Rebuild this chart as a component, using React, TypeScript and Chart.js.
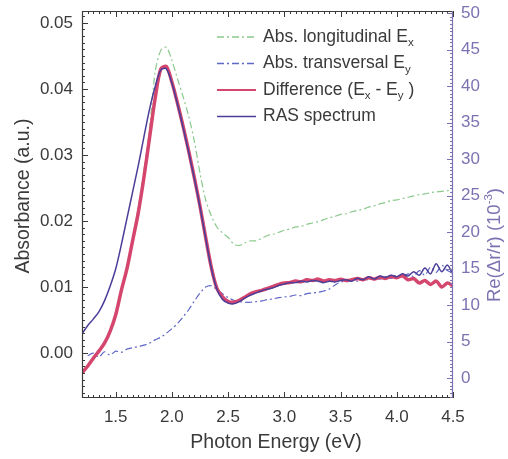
import React, { useEffect, useRef } from "react";
import { Chart, registerables } from "chart.js";

Chart.register(...registerables);

// ---------- data ----------
const energy = [
  1.2, 1.25, 1.3, 1.35, 1.4, 1.45, 1.5, 1.55, 1.6, 1.65, 1.7, 1.75, 1.8, 1.85, 1.9, 1.95,
  2.0, 2.05, 2.1, 2.15, 2.2, 2.25, 2.3, 2.35, 2.4, 2.45, 2.5, 2.55, 2.6, 2.65, 2.7, 2.75,
  2.8, 2.85, 2.9, 2.95, 3.0, 3.05, 3.1, 3.15, 3.2, 3.25, 3.3, 3.35, 3.4, 3.45, 3.5, 3.55,
  3.6, 3.65, 3.7, 3.75, 3.8, 3.85, 3.9, 3.95, 4.0, 4.05, 4.1, 4.15, 4.2, 4.25, 4.3, 4.35,
  4.4, 4.45, 4.5,
];

// Abs. longitudinal Ex (left axis)
const absLongitudinal = [
  -0.0028, -0.0018, -0.0006, 0.0005, 0.0017, 0.0035, 0.006, 0.0097, 0.0132, 0.0175, 0.022, 0.0275,
  0.0338, 0.0425, 0.0458, 0.0463, 0.0443, 0.0415, 0.0388, 0.0358, 0.032, 0.0272, 0.0232, 0.0208,
  0.0191, 0.0182, 0.0175, 0.0165, 0.0163, 0.0167, 0.017, 0.017, 0.0174, 0.0178, 0.018, 0.0183,
  0.0186, 0.0188, 0.0191, 0.0192, 0.0195, 0.0197, 0.0199, 0.0202, 0.0205, 0.0207, 0.021, 0.0211,
  0.0214, 0.0216, 0.0218, 0.0221, 0.0223, 0.0226, 0.0228, 0.0231, 0.0232, 0.0234, 0.0236, 0.0238,
  0.024, 0.0241, 0.0243, 0.0244, 0.0245, 0.0246, 0.0247,
];

// Abs. transversal Ey (left axis)
const absTransversal = [
  null, -0.0004, 0.0, -0.0006, 0.0002, -0.0003, 0.0003, 0.0001, 0.0006, 0.0008, 0.001, 0.0012,
  0.0015, 0.002, 0.0024, 0.003, 0.0037, 0.0045, 0.0055, 0.0066, 0.0079, 0.0091, 0.01, 0.0102,
  0.0096, 0.009, 0.0084, 0.008, 0.0078, 0.0077, 0.0077, 0.0078, 0.0079, 0.0081, 0.0082, 0.0084,
  0.0085, 0.0086, 0.0088, 0.0087, 0.009, 0.0091, 0.0092, 0.0094, 0.0097, 0.0103, 0.0108, 0.0108,
  0.011, 0.0109, 0.0112, 0.0111, 0.0114, 0.0112, 0.0116, 0.0113, 0.0118, 0.0115, 0.012, 0.0116,
  0.0125, 0.0118, 0.013, 0.0122, 0.0133, 0.0125, 0.0121,
];

// Difference (Ex - Ey) (left axis)
const difference = [
  -0.003, -0.002, -0.0008, 0.0003, 0.0015, 0.0033, 0.0058, 0.0095, 0.0128, 0.017, 0.0212, 0.0265,
  0.0325, 0.0385, 0.043, 0.0434, 0.041, 0.0378, 0.0343, 0.0305, 0.0265, 0.0222, 0.0175, 0.013,
  0.0098, 0.0085, 0.0078, 0.0077, 0.008, 0.0085, 0.009, 0.0093, 0.0095, 0.0098, 0.0101, 0.0104,
  0.0106, 0.0107, 0.0109, 0.0108, 0.0111, 0.011, 0.0112, 0.0109, 0.0111, 0.011, 0.0112, 0.011,
  0.0111, 0.0113, 0.0111, 0.0114, 0.0112, 0.0115, 0.0113, 0.0116, 0.0114, 0.0117, 0.0111, 0.0113,
  0.0106, 0.011, 0.0104, 0.0109, 0.01, 0.0106, 0.0102,
];

// RAS spectrum Re(Δr/r) in 10^-3 (right axis)
const rasSpectrum = [
  6.1, 7.2, 8.1, 9.1, 10.6, 12.6, 15.0, 18.3, 21.9, 25.5, 29.1, 33.0, 36.8, 39.9, 42.2, 42.4,
  40.4, 37.5, 34.3, 30.9, 27.3, 23.4, 19.2, 15.1, 12.2, 10.8, 10.3, 10.2, 10.5, 11.0, 11.4, 11.7,
  12.0, 12.2, 12.4, 12.7, 12.9, 13.1, 13.1, 13.3, 13.2, 13.4, 13.3, 13.1, 13.3, 13.2, 13.4, 13.5,
  13.3, 13.7, 13.5, 13.9, 13.6, 14.0, 13.8, 14.1, 13.9, 14.3, 14.0, 14.6, 14.1, 15.1, 14.3, 15.7,
  14.6, 15.5, 14.2,
];

const xTicks = [1.5, 2.0, 2.5, 3.0, 3.5, 4.0, 4.5];
const leftTicks = [0.0, 0.01, 0.02, 0.03, 0.04, 0.05];
const rightTicks = [0, 5, 10, 15, 20, 25, 30, 35, 40, 45, 50];

// ---------- styling ----------
const FONT = "'Liberation Sans', Arial, Helvetica, sans-serif";
const DARK = "#3a3a3a";
const PURPLE_AXIS = "#7c72b2";
const GREEN = "#8cc98c";
const BLUE = "#5e66c6";
const RED = "#d5466e";
const PURPLE = "#4a3e98";

const X_MIN = 1.2, X_MAX = 4.5;
const YL_MIN = -0.0068, YL_MAX = 0.0518;
const YR_MIN = -2.7, YR_MAX = 50.3;

const pts = (ys: (number | null)[]) => energy.map((x, i) => ({ x, y: ys[i] }));

const decorPlugin = {
  id: "decor",
  afterDraw(chart: any) {
    const { ctx, chartArea: a, scales } = chart;
    const sx = scales.x, yl = scales.y, yr = scales.y2;
    ctx.save();

    // frame: left, top, bottom in dark, right in purple
    ctx.lineWidth = 1.2;
    ctx.strokeStyle = DARK;
    ctx.beginPath();
    ctx.moveTo(a.right, a.top + 0.5);
    ctx.lineTo(a.left + 0.5, a.top + 0.5);
    ctx.lineTo(a.left + 0.5, a.bottom - 0.5);
    ctx.lineTo(a.right, a.bottom - 0.5);
    ctx.stroke();
    ctx.strokeStyle = PURPLE_AXIS;
    ctx.beginPath();
    ctx.moveTo(a.right - 0.5, a.top);
    ctx.lineTo(a.right - 0.5, a.bottom);
    ctx.stroke();

    // x ticks (bottom & top), minor every 0.05
    ctx.lineWidth = 1;
    ctx.strokeStyle = DARK;
    for (let k = 24; k <= 90; k++) {
      const v = k * 0.05;
      if (v < X_MIN - 1e-9 || v > X_MAX + 1e-9) continue;
      const px = Math.round(sx.getPixelForValue(v)) + 0.5;
      const major = k % 10 === 0;
      const len = major ? 6 : 3;
      ctx.beginPath();
      ctx.moveTo(px, a.bottom);
      ctx.lineTo(px, a.bottom - len);
      ctx.moveTo(px, a.top);
      ctx.lineTo(px, a.top + len);
      ctx.stroke();
    }
    // left ticks, minor every 0.001
    for (let k = -6; k <= 51; k++) {
      const v = k * 0.001;
      const py = Math.round(yl.getPixelForValue(v)) + 0.5;
      if (py < a.top || py > a.bottom) continue;
      const len = k % 10 === 0 ? 6 : 3;
      ctx.beginPath();
      ctx.moveTo(a.left, py);
      ctx.lineTo(a.left + len, py);
      ctx.stroke();
    }
    // right ticks, minor every 0.5
    ctx.strokeStyle = PURPLE_AXIS;
    for (let k = -5; k <= 100; k++) {
      const v = k * 0.5;
      const py = Math.round(yr.getPixelForValue(v)) + 0.5;
      if (py < a.top || py > a.bottom) continue;
      const len = k % 10 === 0 ? 6 : 3;
      ctx.beginPath();
      ctx.moveTo(a.right, py);
      ctx.lineTo(a.right - len, py);
      ctx.stroke();
    }

    // tick labels
    ctx.font = `17px ${FONT}`;
    ctx.fillStyle = DARK;
    ctx.textBaseline = "middle";
    ctx.textAlign = "right";
    leftTicks.forEach((v) => ctx.fillText(v.toFixed(2), a.left - 9, yl.getPixelForValue(v)));
    ctx.textAlign = "center";
    xTicks.forEach((v) => ctx.fillText(v.toFixed(1), sx.getPixelForValue(v), a.bottom + 19));
    ctx.fillStyle = PURPLE_AXIS;
    ctx.textAlign = "left";
    rightTicks.forEach((v) => ctx.fillText(String(v), a.right + 8, yr.getPixelForValue(v)));

    // axis titles
    ctx.font = `19.5px ${FONT}`;
    ctx.fillStyle = DARK;
    ctx.textAlign = "center";
    ctx.fillText("Photon Energy (eV)", 276, 443);
    ctx.save();
    ctx.translate(24, 196);
    ctx.rotate(-Math.PI / 2);
    ctx.fillText("Absorbance (a.u.)", 0, 0);
    ctx.restore();

    // right title with superscript
    ctx.save();
    ctx.translate(495, 245);
    ctx.rotate(-Math.PI / 2);
    ctx.fillStyle = PURPLE_AXIS;
    ctx.textAlign = "left";
    const big = `18.5px ${FONT}`;
    const small = `11.5px ${FONT}`;
    const parts = [
      { t: "Re(\u0394r/r) (10", f: big, dy: 0 },
      { t: "-3", f: small, dy: -6 },
      { t: ")", f: big, dy: 0 },
    ];
    let total = 0;
    parts.forEach((p) => { ctx.font = p.f; total += ctx.measureText(p.t).width; });
    let cx = -total / 2;
    parts.forEach((p) => {
      ctx.font = p.f;
      ctx.fillText(p.t, cx, p.dy);
      cx += ctx.measureText(p.t).width;
    });
    ctx.restore();

    // legend
    const rows = [
      { color: GREEN, dash: [7, 3, 2, 3], w: 1.3, parts: [["Abs. longitudinal E", 0], ["x", 1]] },
      { color: BLUE, dash: [7, 3, 2, 3], w: 1.3, parts: [["Abs. transversal E", 0], ["y", 1]] },
      { color: RED, dash: [], w: 2, parts: [["Difference (E", 0], ["x", 1], [" - E", 0], ["y", 1], [" )", 0]] },
      { color: PURPLE, dash: [], w: 1.5, parts: [["RAS spectrum", 0]] },
    ];
    const rowY = [37, 63.5, 90, 116.5];
    rows.forEach((r, i) => {
      const y = rowY[i];
      ctx.strokeStyle = r.color;
      ctx.lineWidth = r.w;
      ctx.setLineDash(r.dash);
      ctx.beginPath();
      ctx.moveTo(217, y);
      ctx.lineTo(256, y);
      ctx.stroke();
      ctx.setLineDash([]);
      ctx.fillStyle = DARK;
      ctx.textAlign = "left";
      let x = 263;
      r.parts.forEach(([t, sub]: any) => {
        ctx.font = sub ? `11.5px ${FONT}` : `17.5px ${FONT}`;
        ctx.fillText(t, x, sub ? y + 6 : y);
        x += ctx.measureText(t).width;
      });
    });

    ctx.restore();
  },
};

export default function App() {
  const canvasRef = useRef<HTMLCanvasElement | null>(null);

  useEffect(() => {
    if (!canvasRef.current) return;
    const chart = new Chart(canvasRef.current, {
      type: "line",
      data: {
        datasets: [
          {
            label: "RAS spectrum",
            data: pts(rasSpectrum),
            yAxisID: "y2",
            borderColor: PURPLE,
            borderWidth: 1.5,
            pointRadius: 0,
            tension: 0.3,
            order: 0,
          },
          {
            label: "Difference (Ex - Ey)",
            data: pts(difference),
            yAxisID: "y",
            borderColor: RED,
            borderWidth: 3.5,
            pointRadius: 0,
            tension: 0.3,
            order: 1,
          },
          {
            label: "Abs. transversal Ey",
            data: pts(absTransversal),
            yAxisID: "y",
            borderColor: BLUE,
            borderWidth: 1.2,
            borderDash: [7, 3, 2, 3],
            pointRadius: 0,
            tension: 0.3,
            order: 2,
          },
          {
            label: "Abs. longitudinal Ex",
            data: pts(absLongitudinal),
            yAxisID: "y",
            borderColor: GREEN,
            borderWidth: 1.2,
            borderDash: [7, 3, 2, 3],
            pointRadius: 0,
            tension: 0.3,
            order: 3,
          },
        ],
      },
      options: {
        animation: false,
        responsive: true,
        maintainAspectRatio: false,
        layout: { padding: { left: 82, right: 55, top: 11, bottom: 61 } },
        plugins: { legend: { display: false }, tooltip: { enabled: false } },
        scales: {
          x: { type: "linear", min: X_MIN, max: X_MAX, display: false },
          y: { type: "linear", min: YL_MIN, max: YL_MAX, display: false },
          y2: { type: "linear", min: YR_MIN, max: YR_MAX, display: false, position: "right" },
        },
      },
      plugins: [decorPlugin],
    });
    return () => chart.destroy();
  }, []);

  return (
    <div style={{ position: "fixed", left: 0, top: 0, width: 508, height: 459, background: "#fff" }}>
      <canvas ref={canvasRef} />
    </div>
  );
}
